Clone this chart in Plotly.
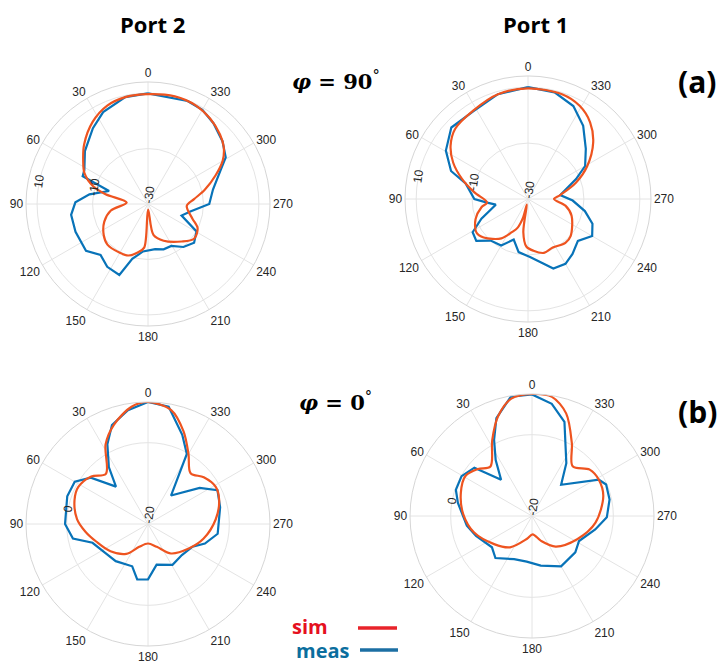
import plotly.graph_objects as go

# ---------------- data (gain in dB vs angle in degrees) ----------------
# phi = 90 deg cut, Port 2
p2_phi90_sim_theta = [0, 12, 22.5, 34, 47, 56, 64, 72, 77, 86, 100, 112, 125, 135, 150, 159, 168, 175,
                      181, 190, 203, 222, 233, 244, 252, 267, 276, 284, 293, 300, 307, 314, 324, 334, 346, 360]
p2_phi90_sim_r = [9.6, 9.4, 8.4, 5.7, 1.5, -1.8, -4.5, -9.2, -14.3, -22.3, -16.4, -13, -10.5, -9.3, -9.7, -10.1, -12.1, -14.2,
                  -28, -18.7, -15.6, -11.8, -9.2, -10.1, -13.2, -16, -13.3, -8.9, -3.5, 1.1, 4.2, 6.1, 8.1, 9.5, 10, 9.6]
p2_phi90_meas_theta = [0, 12, 26, 36, 50, 62, 67, 71.5, 80.6, 88.7, 98, 111, 127, 137, 147, 158, 164, 174, 189,
                       199, 209, 219.5, 230, 240.5, 251, 260, 270, 282.5, 295, 301, 310, 321, 330, 339, 360]
p2_phi90_meas_r = [9.9, 9.4, 6.9, 3.8, -0.3, -4, -4.4, -15.2, -8.6, -3.8, -2, -2, -2, -4.9, -3, -2.4, -9.4, -12.8, -13.5,
                   -12.7, -12.7, -9.9, -8.3, -9.9, -17.2, -14.5, -7.9, -6, -1.1, 2.7, 5.1, 7.5, 9.2, 9.8, 9.9]

# phi = 90 deg cut, Port 1
p1_phi90_sim_theta = [0, 16, 32, 46, 55.5, 64, 73, 83, 95, 100, 111, 123, 131, 146, 154, 160, 165, 168, 172,
                      178, 186, 196.5, 207, 220.5, 229, 249, 260, 270, 277, 289, 299, 311, 321, 331, 342, 360]
p1_phi90_sim_r = [9.6, 9, 7.2, 6.2, 3.6, -0.2, -5.3, -10.7, -15.3, -13.1, -9.9, -8, -9, -13, -16.8, -19, -23, -28, -18,
                  -13, -11.4, -9.9, -10.5, -9.4, -9.8, -13.3, -16.4, -20.7, -18.4, -11.8, -5.8, 0.9, 5.3, 8.1, 9.4, 9.6]
p1_phi90_meas_theta = [0, 16, 32, 47, 59.5, 70, 76, 90, 95, 100, 113, 121, 129, 138, 150, 160.6, 170, 182, 200,
                       210, 219, 230, 240, 249, 258, 268, 277, 292.5, 300, 311, 323, 334, 346, 360]
p1_phi90_meas_r = [10, 9, 7, 7.5, 4.1, -0.7, -7, -10.8, -15.3, -18.3, -11.9, -6.9, -6.2, -10, -10.8, -14.6, -10.7, -9.2, -3.5,
                   -3.2, -4.7, -6.7, -3.5, -5.3, -9.2, -14, -18.4, -11.4, -6.4, -2.6, 2.8, 7, 9.3, 10]

# phi = 0 deg cut, Port 2
p2_phi0_sim_theta = [0, 8, 19, 28, 40, 50, 62, 72, 86, 97, 109, 126, 144, 159, 180, 201, 218, 239, 255,
                     274, 289, 299, 310, 320, 330, 339, 348.5, 360]
p2_phi0_sim_r = [10, 9.1, 5.8, 2.2, -3.9, -1.8, -0.6, -1, -2.5, -4.5, -6.6, -8.6, -10.9, -14, -15.2, -14, -10.8, -8.3, -5.9,
                 -3.3, -1.5, -1, -2.1, -3.7, -0.1, 4.4, 8.6, 10]
p2_phi0_meas_theta = [0, 10, 20, 27, 34.5, 40.6, 51, 60, 71, 90, 101, 108.7, 124, 139, 159.5, 169, 180, 192, 211,
                      227.5, 243, 251, 262, 283, 296, 305, 321, 331, 339, 350, 360]
p2_phi0_meas_r = [10, 8.4, 5.9, 2, -3, -7.9, -1.9, 0.8, 1, 0.4, -1.2, -5.6, -7.3, -7.9, -8.9, -6.1, -6.4, -9.8, -8.3,
                  -8.7, -7.7, -5.2, -2.7, -1.8, -1, -4.5, -11, -0.3, 3.5, 9.3, 10]

# phi = 0 deg cut, Port 1
p1_phi0_sim_theta = [0, 10, 19, 27.6, 40, 49, 59, 72, 88.6, 106, 126.6, 145, 167, 182, 200, 217.7, 242.8, 264,
                     285.6, 298.5, 308.8, 320.7, 331.3, 341.6, 350.5, 360]
p1_phi0_sim_r = [10, 9.3, 5.8, 1.1, -4.1, -2.4, -0.9, -1.6, -3.1, -5.2, -8.4, -10.6, -14.2, -15.5, -13.5, -10.5, -7.5, -4.3,
                 -1.8, -1.3, -1.8, -4.2, 0.4, 6.6, 9.7, 10]
p1_phi0_meas_theta = [0, 10, 20, 26.5, 33, 40.5, 50, 60.5, 71, 80, 98.5, 109.5, 128, 139, 157.5, 173.4, 190, 210,
                      230, 242, 258, 269, 282, 293, 298.5, 317, 327, 341, 350, 360]
p1_phi0_meas_r = [9.9, 9.8, 5.6, 0.9, -3.6, -8.3, -1.5, -0.1, -0.2, -1.5, -3.8, -5.4, -7.5, -6.3, -8.5, -8.7, -7.6, -5.7,
                  -6.1, -6.9, -4.1, -1.6, -0.5, -0.2, -1.3, -9.5, -4.5, 4.5, 8, 9.9]

angle_ticks = list(range(0, 360, 30))
angle_labels = [str(a) for a in angle_ticks]
phi90_rrange = [-30, 14]
phi90_rticks = [-30, -10, 10]
phi0_rrange = [-20, 10]
phi0_rticks = [-20, 0]

# ---------------- styling ----------------
W, H = 720, 668
SIM_COLOR = "#EE5420"
MEAS_COLOR = "#0873B8"
GRID = "#e4e4e4"
LABEL_FONT = dict(family="Liberation Sans, Arial, sans-serif", size=12, color="#262626")

fig = go.Figure()

panels = [
    ("polar", p2_phi90_sim_theta, p2_phi90_sim_r, p2_phi90_meas_theta, p2_phi90_meas_r),
    ("polar2", p1_phi90_sim_theta, p1_phi90_sim_r, p1_phi90_meas_theta, p1_phi90_meas_r),
    ("polar3", p2_phi0_sim_theta, p2_phi0_sim_r, p2_phi0_meas_theta, p2_phi0_meas_r),
    ("polar4", p1_phi0_sim_theta, p1_phi0_sim_r, p1_phi0_meas_theta, p1_phi0_meas_r),
]
for pid, st, sr, mt, mr in panels:
    fig.add_trace(go.Scatterpolar(theta=mt, r=mr, mode="lines", subplot=pid, showlegend=False,
                                  line=dict(color=MEAS_COLOR, width=2.2)))
    fig.add_trace(go.Scatterpolar(theta=st, r=sr, mode="lines", subplot=pid, showlegend=False,
                                  line=dict(color=SIM_COLOR, width=2.2, shape="spline", smoothing=0.9)))


def polar_layout(cx, cy, R, rng, rticks):
    return dict(
        domain=dict(x=[(cx - R) / W, (cx + R) / W], y=[1 - (cy + R) / H, 1 - (cy - R) / H]),
        bgcolor="white",
        angularaxis=dict(rotation=90, direction="counterclockwise", tickmode="array",
                         tickvals=angle_ticks, ticktext=angle_labels, ticks="",
                         showline=True, linecolor="#d6d6d6", linewidth=1,
                         showgrid=True, gridcolor=GRID, gridwidth=1, tickfont=LABEL_FONT),
        radialaxis=dict(range=rng, tickmode="array", tickvals=rticks, ticktext=[str(v) for v in rticks],
                        angle=172, tickangle=90, showline=False, ticks="",
                        showgrid=True, gridcolor=GRID, gridwidth=1, tickfont=LABEL_FONT),
    )


fig.update_layout(
    width=W, height=H,
    margin=dict(l=0, r=0, t=0, b=0),
    paper_bgcolor="white",
    polar=polar_layout(148, 204, 122, phi90_rrange, phi90_rticks),
    polar2=polar_layout(528, 199, 123, phi90_rrange, phi90_rticks),
    polar3=polar_layout(148, 524, 122, phi0_rrange, phi0_rticks),
    polar4=polar_layout(532, 516, 122, phi0_rrange, phi0_rticks),
)

TITLE_FONT = dict(family="Open Sans, sans-serif", size=22, color="black")
PHI_FONT = dict(family="DejaVu Serif, serif", size=21, color="black")


def px(x):
    return x / W


def py(y):
    return 1 - y / H


annotations = [
    dict(text="<b>Port 2</b>", x=px(152), y=py(24), font=TITLE_FONT),
    dict(text="<b>Port 1</b>", x=px(535), y=py(24), font=TITLE_FONT),
    dict(text="<b><i>φ</i> = 90</b><sup>°</sup>", x=px(336), y=py(80), font=PHI_FONT),
    dict(text="<b><i>φ</i> = 0</b><sup>°</sup>", x=px(335), y=py(401), font=PHI_FONT),
    dict(text="<b>(a)</b>", x=px(697), y=py(81), font=dict(family="Open Sans, sans-serif", size=30, color="black")),
    dict(text="<b>(b)</b>", x=px(697), y=py(411), font=dict(family="Open Sans, sans-serif", size=30, color="black")),
    dict(text="<b>sim</b>", x=px(290), y=py(626), xanchor="left",
         font=dict(family="Open Sans, sans-serif", size=20, color="#E5101E")),
    dict(text="<b>meas</b>", x=px(294), y=py(650), xanchor="left",
         font=dict(family="Open Sans, sans-serif", size=20, color="#0B6E9E")),
]
for a in annotations:
    a.setdefault("xanchor", "center")
    a.update(xref="paper", yref="paper", yanchor="middle", showarrow=False)
fig.update_layout(annotations=annotations)

fig.update_layout(shapes=[
    dict(type="line", xref="paper", yref="paper", x0=px(358), x1=px(397), y0=py(628), y1=py(628),
         line=dict(color="#E8232A", width=3.5)),
    dict(type="line", xref="paper", yref="paper", x0=px(360), x1=px(398), y0=py(650), y1=py(650),
         line=dict(color="#1C6FA3", width=3.5)),
])

fig.write_html("out.html")
